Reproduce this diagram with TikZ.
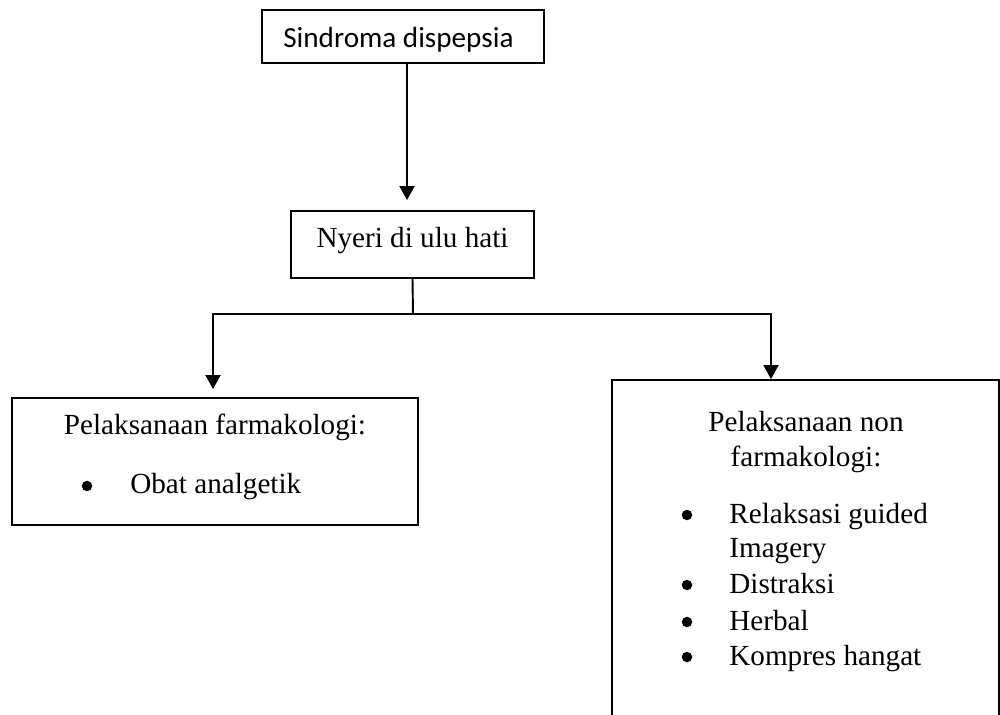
\documentclass[tikz,border=0pt]{standalone}
\usepackage{fontspec}
\setmainfont{Liberation Serif}
\newfontfamily\calibri{Carlito}
\usetikzlibrary{arrows.meta}

\tikzset{
  box/.style={draw,line width=1.1pt,inner sep=0pt},
  txt/.style={inner sep=0pt,font=\fontsize{16.6}{20}\selectfont},
  dot/.style={circle,fill,inner sep=0pt,minimum size=0.21cm},
  link/.style={line width=1.1pt},
  arr/.style={line width=1.1pt,-{Triangle[width=0.3cm,length=0.28cm]}}
}

\begin{document}
\begin{tikzpicture}[x=0.02cm,y=-0.02cm]
  \clip (0,0) rectangle (1000,715);
  % boxes
  \node[box,minimum width=5.64cm,minimum height=1.06cm] (sindroma) at (403,36.5) {};
  \node[box,minimum width=4.86cm,minimum height=1.34cm] (nyeri) at (412.5,244.5) {};
  \node[box,minimum width=8.12cm,minimum height=2.54cm] (farmako) at (215,461.5) {};
  \node[box,minimum width=7.74cm,minimum height=7.6cm] (nonfarmako) at (805.5,570) {};

  % texts
  \node[txt,anchor=base west,font={\calibri\fontsize{16.6}{20}\selectfont}] (sindromatxt) at (283,48) {Sindroma dispepsia};
  \node[txt,anchor=base] (nyeritxt) at (412.5,248) {Nyeri di ulu hati};
  \node[txt,anchor=base] (farmakotxt) at (215,435) {Pelaksanaan farmakologi:};
  \node[dot] (dot0) at (87,486) {};
  \node[txt,anchor=base west] (obat) at (130,494) {Obat analgetik};
  \node[txt,anchor=base] (nontxt1) at (806,432) {Pelaksanaan non};
  \node[txt,anchor=base] (nontxt2) at (806,467) {farmakologi:};
  \foreach \y/\t [count=\i] in {523/Relaksasi guided,593/Distraksi,630/Herbal,665/Kompres hangat} {
    \node[dot] (dot\i) at (687,{\y-8}) {};
    \node[txt,anchor=base west] (item\i) at (729,\y) {\t};
  }
  \node[txt,anchor=base west] (imagery) at (729,558) {Imagery};

  % connectors
  \coordinate (split) at (413,314);
  \coordinate (lbranch) at (213,314);
  \coordinate (rbranch) at (771,314);
  \draw[arr,shorten >=0.2cm] ([xshift=0.08cm]sindroma.south) -- ([xshift=0.08cm]sindroma.south |- nyeri.north);
  \draw[link] (nyeri.south) -- (split);
  \draw[link,line cap=rect] (lbranch) -- (rbranch);
  \draw[arr,shorten >=0.16cm] (lbranch) -- (lbranch |- farmako.north);
  \draw[arr] (rbranch) -- (rbranch |- nonfarmako.north);
\end{tikzpicture}
\end{document}
